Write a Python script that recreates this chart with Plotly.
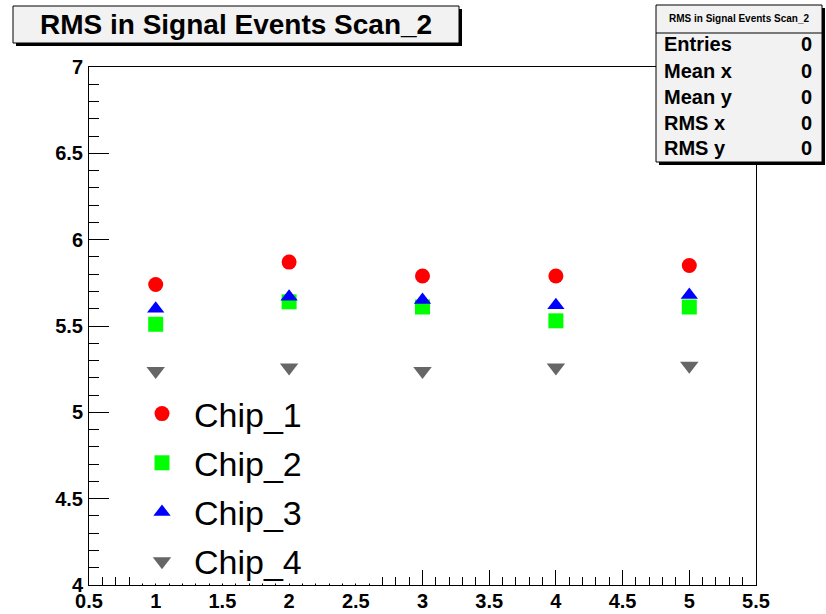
import plotly.graph_objects as go

# Scan points and RMS values per chip
scan_x = [1, 2, 3, 4, 5]
chip_1 = [5.74, 5.87, 5.79, 5.79, 5.85]
chip_2 = [5.51, 5.64, 5.61, 5.53, 5.61]
chip_3 = [5.60, 5.67, 5.65, 5.62, 5.68]
chip_4 = [5.24, 5.26, 5.24, 5.26, 5.27]

series_names = ["Chip_1", "Chip_2", "Chip_3", "Chip_4"]
series_values = [chip_1, chip_2, chip_3, chip_4]
series_colors = ["#ff0000", "#00ff00", "#0000ff", "#666666"]
series_symbols = ["circle", "square", "triangle-up", "triangle-down"]
series_sizes = [15, 15, 15, 16]

x_ticks = [0.5, 1, 1.5, 2, 2.5, 3, 3.5, 4, 4.5, 5, 5.5]
y_ticks = [4, 4.5, 5, 5.5, 6, 6.5, 7]

stats_labels = ["Entries", "Mean x", "Mean y", "RMS x", "RMS y"]
stats_values = ["0", "0", "0", "0", "0"]

title_text = "RMS in Signal Events Scan_2"

W, H = 826, 614
L, R, T, B = 89, 756, 67, 585
FONT = "Liberation Sans, Arial, Helvetica, sans-serif"


def px(xp):
    return (xp - L) / (R - L)


def py(yp):
    return (B - yp) / (B - T)


fig = go.Figure()
for name, vals, col, sym, sz in zip(series_names, series_values, series_colors,
                                    series_symbols, series_sizes):
    fig.add_trace(go.Scatter(
        x=scan_x, y=vals, mode="markers", name=name, legendgroup=name,
        marker=dict(color=col, symbol=sym, size=sz, line=dict(width=0)),
    ))

shapes = []
annotations = []

# White backing for the legend (hides the axis ticks behind it)
shapes.append(dict(type="rect", xref="paper", yref="paper",
                   x0=px(133), x1=px(381), y0=py(386), y1=py(583.5),
                   fillcolor="white", line=dict(width=0), layer="above"))

# Title box with drop shadow
shapes.append(dict(type="rect", xref="paper", yref="paper",
                   x0=px(16), x1=px(462), y0=py(9), y1=py(46),
                   fillcolor="black", line=dict(width=0), layer="above"))
shapes.append(dict(type="rect", xref="paper", yref="paper",
                   x0=px(13), x1=px(459), y0=py(6), y1=py(43),
                   fillcolor="#f2f2f2", line=dict(color="black", width=1), layer="above"))
annotations.append(dict(xref="paper", yref="paper", x=px(236), y=py(25),
                        text=title_text, showarrow=False, xanchor="center", yanchor="middle",
                        font=dict(family=FONT, size=28, color="black", weight="bold")))

# Statistics box with drop shadow
shapes.append(dict(type="rect", xref="paper", yref="paper",
                   x0=px(659), x1=px(825), y0=py(8), y1=py(165),
                   fillcolor="black", line=dict(width=0), layer="above"))
shapes.append(dict(type="rect", xref="paper", yref="paper",
                   x0=px(656), x1=px(822), y0=py(5), y1=py(162),
                   fillcolor="#f2f2f2", line=dict(color="black", width=1), layer="above"))
shapes.append(dict(type="line", xref="paper", yref="paper",
                   x0=px(656), x1=px(822), y0=py(33), y1=py(33),
                   line=dict(color="black", width=1), layer="above"))
annotations.append(dict(xref="paper", yref="paper", x=px(739), y=py(19),
                        text=title_text, showarrow=False, xanchor="center", yanchor="middle",
                        font=dict(family=FONT, size=10, color="black", weight="bold")))
row_y = [44, 71, 97, 123, 148]
for lab, val, yy in zip(stats_labels, stats_values, row_y):
    annotations.append(dict(xref="paper", yref="paper", x=px(662), y=py(yy),
                            text=lab, showarrow=False, xanchor="left", yanchor="middle",
                            font=dict(family=FONT, size=20, color="black", weight="bold")))
    annotations.append(dict(xref="paper", yref="paper", x=px(814), y=py(yy),
                            text=val, showarrow=False, xanchor="right", yanchor="middle",
                            font=dict(family=FONT, size=20, color="black", weight="bold")))

fig.update_layout(
    width=W, height=H,
    margin=dict(l=L, r=W - R, t=T, b=H - B, pad=0, autoexpand=False),
    paper_bgcolor="white", plot_bgcolor="white",
    showlegend=True,
    legend=dict(
        x=px(130), y=py(385), xanchor="left", yanchor="top",
        bgcolor="rgba(0,0,0,0)", borderwidth=0,
        font=dict(family=FONT, size=34, color="black"),
        traceorder="grouped", tracegroupgap=2,
        itemwidth=54, itemsizing="trace",
    ),
    shapes=shapes,
    annotations=annotations,
    xaxis=dict(
        range=[0.5, 5.5], tickvals=x_ticks, ticktext=[f"{v:g}" for v in x_ticks],
        showgrid=False, zeroline=False, automargin=False,
        showline=True, mirror=True, linecolor="black", linewidth=1,
        ticks="inside", ticklen=15, tickwidth=1, tickcolor="black",
        minor=dict(dtick=0.1, ticks="inside", ticklen=8, tickwidth=1, tickcolor="black", showgrid=False),
        tickfont=dict(family=FONT, size=20, color="black", weight="bold"),
        ticklabelstandoff=-2,
    ),
    yaxis=dict(
        range=[4, 7], tickvals=y_ticks, ticktext=[f"{v:g}" for v in y_ticks],
        showgrid=False, zeroline=False, automargin=False,
        showline=True, mirror=True, linecolor="black", linewidth=1,
        ticks="inside", ticklen=20, tickwidth=1, tickcolor="black",
        minor=dict(dtick=0.1, ticks="inside", ticklen=10, tickwidth=1, tickcolor="black", showgrid=False),
        tickfont=dict(family=FONT, size=20, color="black", weight="bold"),
        ticklabelstandoff=1,
    ),
)

fig.write_html("out.html")
